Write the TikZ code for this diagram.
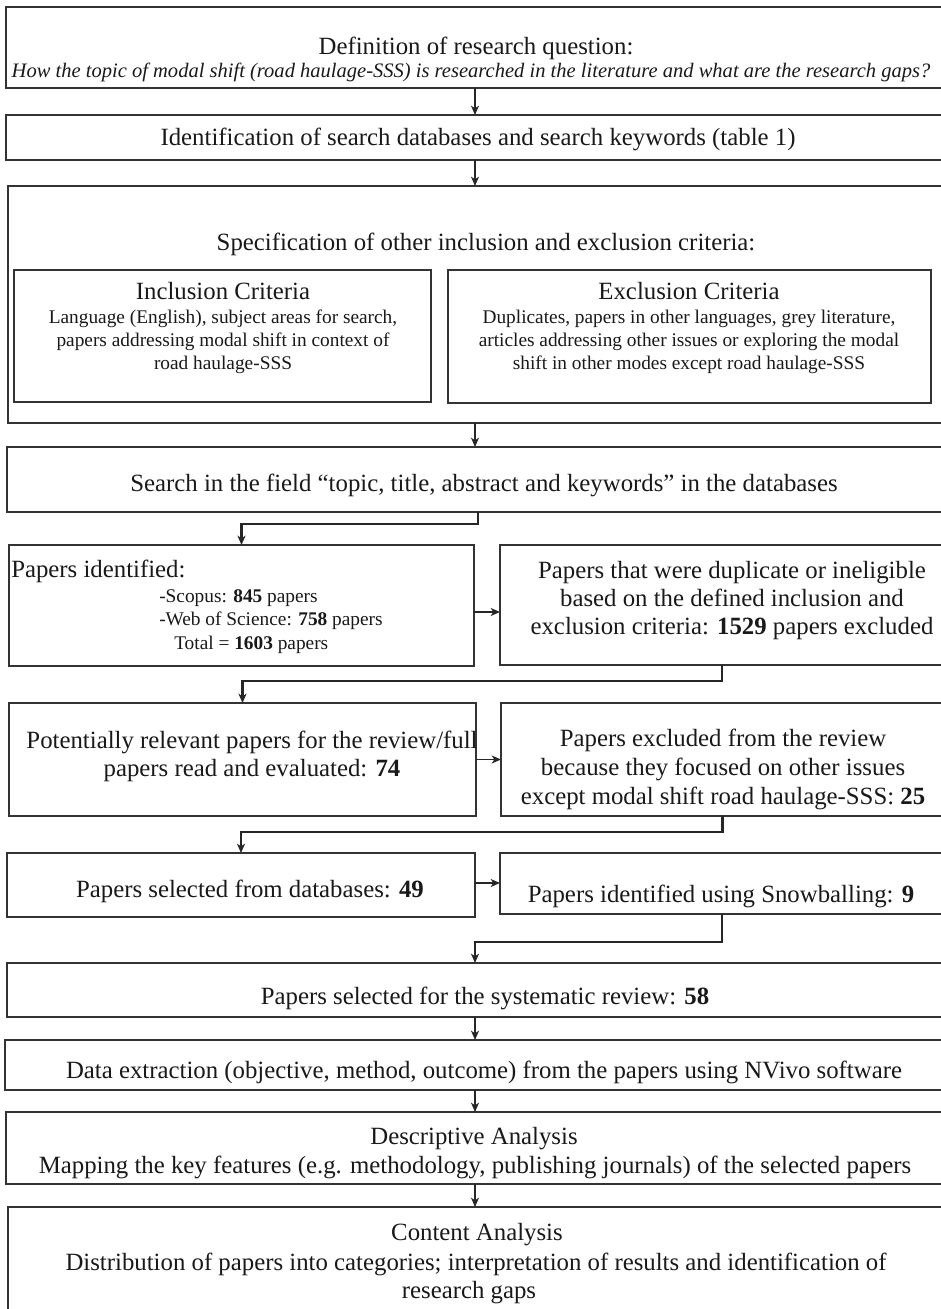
\documentclass[tikz,border=0pt]{standalone}
\usepackage{fontspec}
\setmainfont{Liberation Serif}
\usetikzlibrary{arrows.meta,fit,calc}
\begin{document}
\begin{tikzpicture}[x=0.75pt,y=-0.75pt]
\tikzset{
 box/.style={draw=black!80, line width=1.25pt, inner sep=0pt, outer sep=0pt, rectangle},
 main/.style={font=\fontsize{18.6}{21}\selectfont, inner sep=0pt, anchor=base, text=black!90},
 small/.style={font=\fontsize{14.5}{17}\selectfont, inner sep=0pt, anchor=base, text=black!90},
 ital/.style={font=\fontsize{15.4}{18}\selectfont\itshape, inner sep=0pt, anchor=base, text=black!90},
 varrow/.style={draw=black!85, line width=1.1pt, -{Stealth[length=7pt,width=6pt,inset=2pt]}},
 elbow/.style={draw=black!85, line width=2pt, -{Stealth[length=7pt,width=6pt,inset=2pt]}},
}
\fill[white] (0,0) rectangle (940,1309);
\useasboundingbox (0,0) rectangle (940,1309);

% boxes
\node[box, fit={(6,7) (958,88)}] (b1) {};
\node[box, fit={(6,115) (958,160)}] (b2) {};
\node[box, fit={(8,186) (958,423)}] (b3) {};
\node[box, fit={(14,270) (431,402)}] (inc) {};
\node[box, fit={(448,270) (931,403)}] (exc) {};
\node[box, fit={(7,447) (958,512)}] (b4) {};
\node[box, fit={(9,545) (474,666)}] (l1) {};
\node[box, fit={(500,545) (944,665)}] (r1) {};
\node[box, fit={(9,703) (476,816)}] (l2) {};
\node[box, fit={(501,703) (944,816)}] (r2) {};
\node[box, fit={(7,853) (475,917)}] (l3) {};
\node[box, fit={(500,853) (944,914)}] (r3) {};
\node[box, fit={(7,963) (958,1017)}] (b5) {};
\node[box, fit={(5,1040) (958,1090)}] (b6) {};
\node[box, fit={(6,1112) (958,1184)}] (b7) {};
\node[box, fit={(8,1207) (958,1330)}] (b8) {};

% texts
\node[main] (t1) at (476,55) {Definition of research question:};
\node[ital] (t2) at (471,78) {How the topic of modal shift (road haulage-SSS) is researched in the literature and what are the research gaps?};
\node[main] (t3) at (478,146) {Identification of search databases and search keywords (table 1)};
\node[main] (t4) at (486,250) {Specification of other inclusion and exclusion criteria:};
\node[main] (inc1) at (223,299) {Inclusion Criteria};
\node[small] (inc2) at (223,323.5) {Language (English), subject areas for search,};
\node[small] (inc3) at (223,346.5) {papers addressing modal shift in context of};
\node[small] (inc4) at (223,369.5) {road haulage-SSS};
\node[main] (exc1) at (689,299) {Exclusion Criteria};
\node[small] (exc2) at (689,323.5) {Duplicates, papers in other languages, grey literature,};
\node[small] (exc3) at (689,346.5) {articles addressing other issues or exploring the modal};
\node[small] (exc4) at (689,369.5) {shift in other modes except road haulage-SSS};
\node[main] (t5) at (484,491) {Search in the field “topic, title, abstract and keywords” in the databases};
\node[main, anchor=base west] (id1) at (11,577) {Papers identified:};
\node[small, anchor=base west] (id2) at (159,602.5) {-Scopus: \textbf{845} papers};
\node[small, anchor=base west] (id3) at (159,625.5) {-Web of Science: \textbf{758} papers};
\node[small, anchor=base west] (id4) at (174,649.5) {Total = \textbf{1603} papers};
\node[main] (du1) at (732,578) {Papers that were duplicate or ineligible};
\node[main] (du2) at (732,606) {based on the defined inclusion and};
\node[main] (du3) at (732,634) {exclusion criteria: \textbf{1529} papers excluded};
\node[main] (po1) at (252,748) {Potentially relevant papers for the review/full};
\node[main] (po2) at (252,776) {papers read and evaluated: \textbf{74}};
\node[main] (ex1) at (723,746) {Papers excluded from the review};
\node[main] (ex2) at (723,775) {because they focused on other issues};
\node[main] (ex3) at (723,804) {except modal shift road haulage-SSS: \textbf{25}};
\node[main] (se1) at (250,897) {Papers selected from databases: \textbf{49}};
\node[main] (sn1) at (721,902) {Papers identified using Snowballing: \textbf{9}};
\node[main] (sy1) at (485,1004) {Papers selected for the systematic review: \textbf{58}};
\node[main] (da1) at (484,1078) {Data extraction (objective, method, outcome) from the papers using NVivo software};
\node[main] (de1) at (474,1144) {Descriptive Analysis};
\node[main] (de2) at (475,1173) {Mapping the key features (e.g. methodology, publishing journals) of the selected papers};
\node[main] (co1) at (477,1240) {Content Analysis};
\node[main] (co2) at (476,1270) {Distribution of papers into categories; interpretation of results and identification of};
\node[main] (co3) at (469,1298) {research gaps};

% connectors
\coordinate (ax) at (475,0);
\coordinate (sx) at (478,0);
\coordinate (ya) at (0,612);
\draw[varrow] (b1.south -| ax) -- (b2.north -| ax);
\draw[varrow] (b2.south -| ax) -- (b3.north -| ax);
\draw[varrow] (b3.south -| ax) -- (b4.north -| ax);
\draw[elbow] (b4.south -| sx) |- ($(l1.north)+(0,-21)$) -- (l1.north);
\draw[varrow] (l1.east |- ya) -- (r1.west |- ya);
\draw[elbow] (r1.south) |- ($(l2.north)+(0,-22)$) -- (l2.north);
\draw[varrow] (l2.east) -- (l2.east -| r2.west);
\draw[elbow] (r2.south) |- ($(l3.north)+(0,-21)$) -- (l3.north);
\draw[varrow] ([yshift=1.5pt]l3.east) -- ([yshift=1.5pt]l3.east -| r3.west);
\draw[elbow] (r3.south) |- ($(b5.north -| ax)+(0,-21)$) -- (b5.north -| ax);
\draw[varrow] (b5.south -| ax) -- (b6.north -| ax);
\draw[varrow] (b6.south -| ax) -- (b7.north -| ax);
\draw[varrow] (b7.south -| ax) -- (b8.north -| ax);
\end{tikzpicture}
\end{document}
